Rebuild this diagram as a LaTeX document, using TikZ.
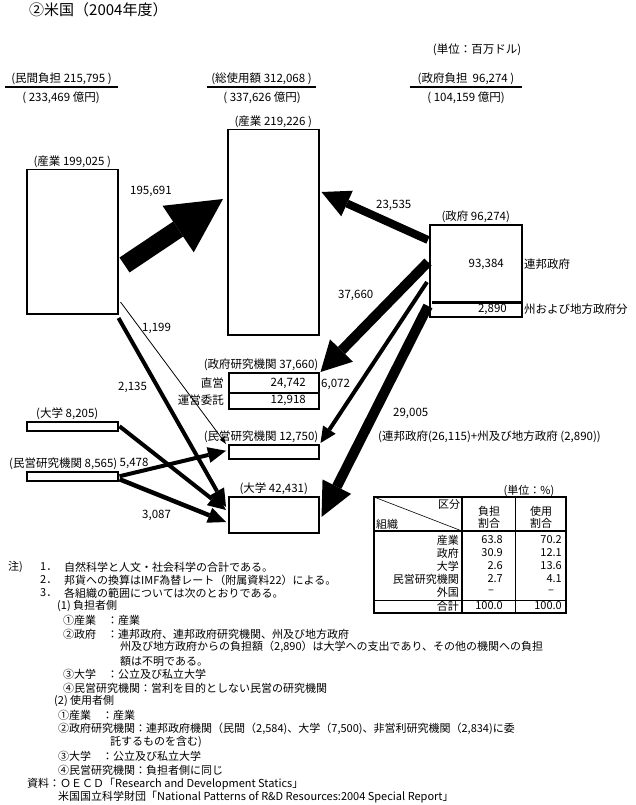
\documentclass[tikz,border=0pt]{standalone}
\usepackage{fontspec}
\setmainfont{Noto Sans CJK JP}
\usetikzlibrary{arrows.meta, positioning, calc}

\tikzstyle{box} = [rectangle, draw=black, line width=1.5pt, inner sep=0pt, anchor=north west]
\tikzstyle{lbl} = [font=\fontsize{11.5}{13}\selectfont, inner sep=1pt]
\tikzstyle{hdr} = [font=\fontsize{11.5}{13}\selectfont, inner xsep=0pt, inner ysep=2pt, anchor=south]
\tikzstyle{tbl} = [font=\fontsize{11}{12}\selectfont, inner sep=1pt]
\tikzstyle{note} = [font=\fontsize{11}{13}\selectfont, anchor=west, inner sep=0pt]
\tikzset{
    flow/.style n args={3}{
        line width=#1, -{Triangle[length=#2, width=#3, line width=0pt]}
    }
}

\begin{document}
\begin{tikzpicture}[x=1pt, y=-1pt]
        \useasboundingbox (0,0) rectangle (636,805);

        % Title and headers
        \node[note, font=\fontsize{15}{17}\selectfont] (title) at (29,10) {②米国（2004年度）};
        \node[lbl] (unit) at (477,50) {(単位：百万ドル)};
        \node[hdr, minimum width=113pt] (hprv) at (61.5,87) {(民間負担 215,795 )};
        \node[lbl] (hprvyen) at (61,98) {( 233,469 億円)};
        \node[hdr, minimum width=109pt] (htot) at (261.5,87) {(総使用額 312,068 )};
        \node[lbl] (htotyen) at (262,98) {( 337,626 億円)};
        \node[hdr, minimum width=112pt] (hgov) at (466,87) {(政府負担 \ 96,274 )};
        \node[lbl] (hgovyen) at (466,98) {( 104,159 億円)};
        \draw[line width=1.2pt] (hprv.south west) -- (hprv.south east);
        \draw[line width=1.2pt] (htot.south west) -- (htot.south east);
        \draw[line width=1.2pt] (hgov.south west) -- (hgov.south east);

        % Nodes
        \node[box, minimum width=91pt, minimum height=144pt] (indsrc) at (26,169) {};
        \node[box, minimum width=91pt, minimum height=9pt] (univsrc) at (26,421) {};
        \node[box, minimum width=91pt, minimum height=9pt] (nprsrc) at (26,471) {};
        \node[box, minimum width=91pt, minimum height=205pt] (induse) at (227,129) {};
        \node[box, minimum width=90pt, minimum height=36pt] (gri) at (228,372) {};
        \node[box, minimum width=90pt, minimum height=14pt] (nprr) at (228,444) {};
        \node[box, minimum width=90pt, minimum height=36pt] (univ) at (228,496) {};
        \node[box, minimum width=92pt, minimum height=92pt] (gov) at (429,224) {};

        % Labels for nodes
        \node[lbl, above=0pt of indsrc] (lindsrc) {(産業 199,025 )};
        \node[lbl, above=0pt of univsrc, xshift=-5pt] (lunivsrc) {(大学 8,205)};
        \node[lbl, above=0pt of nprsrc.north east, anchor=south east] (lnprsrc) {(民営研究機関 8,565)};
        \node[lbl, above=0pt of induse] (linduse) {(産業 219,226 )};
        \node[lbl, above=0pt of gri.north east, anchor=south east] (lgri) {(政府研究機関 37,660)};
        \node[lbl, above=0pt of nprr.north east, anchor=south east] (lnprr) {(民営研究機関 12,750)};
        \node[lbl, above=0pt of univ] (luniv) {(大学 42,431)};
        \node[lbl, above=0pt of gov] (lgov) {(政府 96,274)};

        % Inside the boxes
        \draw[line width=3pt] ($(gov.north west)+(3,78)$) -- ($(gov.north east)+(0,78)$);
        \node[lbl, anchor=east] (fedval) at (505,264) {93,384};
        \node[lbl, anchor=west] (fedtxt) at (523,264) {連邦政府};
        \node[lbl, anchor=east] (stval) at (508,309) {2,890};
        \node[lbl, anchor=west] (sttxt) at (523,309) {州および地方政府分};
        \draw[line width=2.5pt] ($(gri.north west)+(1,21)$) -- ($(gri.north east)+(-1,21)$);
        \node[lbl, anchor=east] (dirval) at (307,383) {24,742};
        \node[lbl, anchor=east] (dirtxt) at (225,383) {直営};
        \node[lbl, anchor=east] (conval) at (307,400) {12,918};
        \node[lbl, anchor=east] (contxt) at (225,400) {運営委託};

        % Arrows
        \draw[flow={18pt}{54pt}{56pt}] ($(indsrc.north east)+(6,96)$) -- ($(induse.north west)+(-4,70)$);
        \draw[flow={8pt}{28pt}{28pt}] ($(gov.north west)+(-1,16)$) -- ($(induse.north east)+(2,63)$);
        \draw[flow={10pt}{30pt}{32pt}] ($(gov.north west)+(-1,38)$) -- ($(gri.north east)+(1,0)$);
        \draw[flow={4pt}{16pt}{15pt}] ($(gov.north west)+(-2,58)$) -- ($(nprr.north east)+(1,-1)$);
        \draw[flow={10pt}{34pt}{32pt}] ($(gov.north west)+(-1,82)$) -- ($(univ.north east)+(2,21)$);
        \draw[flow={0.8pt}{7pt}{5pt}] ($(indsrc.north east)+(2,133)$) -- ($(nprr.north west)+(-2,0)$);
        \draw[flow={4pt}{18pt}{16pt}] ($(indsrc.north east)+(0,149)$) -- ($(univ.north west)+(-2,11)$);
        \draw[flow={4pt}{18pt}{16pt}] ($(univsrc.east)+(1,0)$) -- ($(univ.north west)+(-2,14)$);
        \draw[flow={4pt}{18pt}{16pt}] ($(nprsrc.east)+(1,0)$) -- ($(nprr.west)+(-2,-1)$);
        \draw[flow={4.5pt}{18pt}{16pt}] ($(nprsrc.east)+(1,3)$) -- ($(univ.north west)+(-2,26)$);

        % Labels for arrows
        \node[lbl, anchor=west] (v195) at (129,191) {195,691};
        \node[lbl, anchor=west] (v235) at (375,205) {23,535};
        \node[lbl, anchor=west] (v376) at (337,295) {37,660};
        \node[lbl, anchor=west] (v60) at (320,384) {6,072};
        \node[lbl, anchor=west] (v290) at (392,413) {29,005};
        \node[lbl, anchor=west] (v290txt) at (377,437) {(連邦政府(26,115)+州及び地方政府 (2,890))};
        \node[lbl, anchor=west] (v11) at (141,328) {1,199};
        \node[lbl, anchor=west] (v21) at (117,387) {2,135};
        \node[lbl, right=0pt of lnprsrc] (v54) {5,478};
        \node[lbl, anchor=west] (v30) at (141,515) {3,087};

        % Share table
        \node[tbl] (tunit) at (529,491) {(単位：\%)};
        \draw[line width=1.5pt] (374,497) rectangle (566,613);
        \draw[line width=1.5pt] (374,531) -- (566,531);
        \draw[line width=0.8pt] (374,600) -- (566,600);
        \draw[line width=1.2pt] (462,497) -- (462,613);
        \draw[line width=0.5pt] (515,497) -- (515,613);
        \draw[line width=0.6pt] (374,497) -- (462,531);
        \node[tbl] (tkubun) at (449,504) {区分};
        \node[tbl, anchor=west] (tsoshiki) at (375,524) {組織};
        \node[tbl, align=center] (tfutan) at (489,517) {負担\\割合};
        \node[tbl, align=center] (tshiyo) at (541,517) {使用\\割合};
        \node[tbl, anchor=east] (r1) at (460,540) {産業};
        \node[tbl, anchor=east] (r1a) at (504,540) {63.8};
        \node[tbl, anchor=east] (r1b) at (563,540) {70.2};
        \node[tbl, anchor=east] (r2) at (460,553) {政府};
        \node[tbl, anchor=east] (r2a) at (504,553) {30.9};
        \node[tbl, anchor=east] (r2b) at (563,553) {12.1};
        \node[tbl, anchor=east] (r3) at (460,566) {大学};
        \node[tbl, anchor=east] (r3a) at (504,566) {2.6};
        \node[tbl, anchor=east] (r3b) at (563,566) {13.6};
        \node[tbl, anchor=east] (r4) at (460,579) {民営研究機関};
        \node[tbl, anchor=east] (r4a) at (504,579) {2.7};
        \node[tbl, anchor=east] (r4b) at (563,579) {4.1};
        \node[tbl, anchor=east] (r5) at (460,592) {外国};
        \node[tbl] (r5a) at (491,592) {–};
        \node[tbl] (r5b) at (551,592) {–};
        \node[tbl, anchor=east] (r6) at (460,606) {合計};
        \node[tbl, anchor=east] (r6a) at (504,606) {100.0};
        \node[tbl, anchor=east] (r6b) at (563,606) {100.0};

        % Notes
        \node[note] (nhead) at (8,567) {注)};
        \node[note] (n1no) at (40,567) {1．};
        \node[note] (n1) at (64,567) {自然科学と人文・社会科学の合計である。};
        \node[note] (n2no) at (40,580) {2．};
        \node[note] (n2) at (64,580) {邦貨への換算はIMF為替レート（附属資料22）による。};
        \node[note] (n3no) at (40,593) {3．};
        \node[note] (n3) at (64,593) {各組織の範囲については次のとおりである。};
        \node[note] (n31) at (57,606) {(1) 負担者側};
        \node[note] (n31a) at (63,620) {①産業　：産業};
        \node[note] (n31b) at (63,634) {②政府　：連邦政府、連邦政府研究機関、州及び地方政府};
        \node[note] (n31b2) at (120,647) {州及び地方政府からの負担額（2,890）は大学への支出であり、その他の機関への負担};
        \node[note] (n31b3) at (120,661) {額は不明である。};
        \node[note] (n31c) at (63,674) {③大学　：公立及び私立大学};
        \node[note] (n31d) at (63,688) {④民営研究機関：営利を目的としない民営の研究機関};
        \node[note] (n32) at (54,701) {(2) 使用者側};
        \node[note] (n32a) at (58,715) {①産業　：産業};
        \node[note] (n32b) at (58,729) {②政府研究機関：連邦政府機関（民間（2,584)、大学（7,500)、非営利研究機関（2,834)に委};
        \node[note] (n32b2) at (110,742) {託するものを含む)};
        \node[note] (n32c) at (58,756) {③大学　：公立及び私立大学};
        \node[note] (n32d) at (58,770) {④民営研究機関：負担者側に同じ};
        \node[note] (nsrc) at (27,784) {資料：ＯＥＣＤ「Research and Development Statics」};
        \node[note] (nsrc2) at (58,797) {米国国立科学財団「National Patterns of R\&D Resources:2004 Special Report」};
    \end{tikzpicture}
\end{document}
